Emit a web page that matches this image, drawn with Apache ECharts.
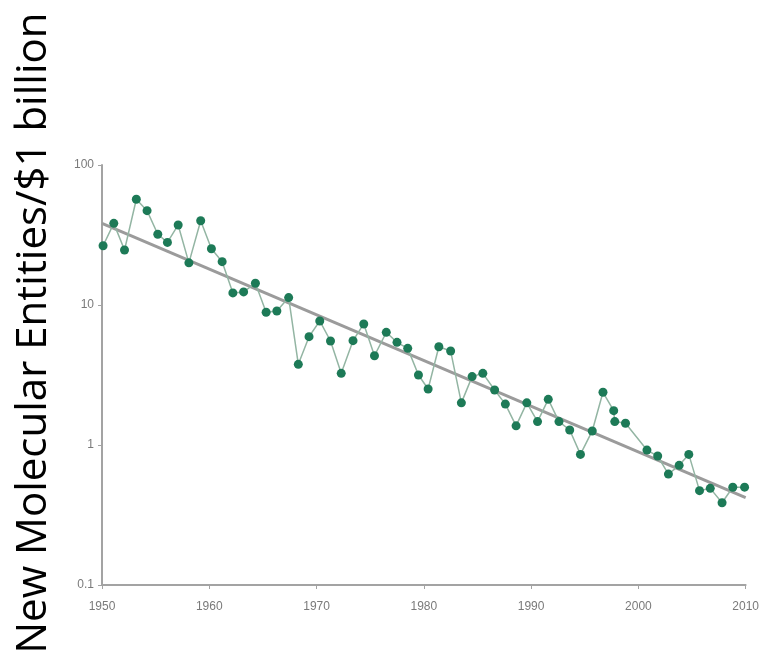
<!DOCTYPE html>
<html>
<head>
<meta charset="utf-8">
<style>html,body{margin:0;padding:0;background:#fff;}#chart{width:762px;height:656px;}</style>
<script src="https://cdn.jsdelivr.net/npm/echarts@6/dist/echarts.min.js"></script>
</head>
<body>
<div id="chart"></div>
<script>
// Year positions (as placed in the picture) and NMEs per $1 billion
const years = [1950.1,1951.1,1952.1,1953.2,1954.2,1955.2,1956.1,1957.1,1958.1,1959.2,
  1960.2,1961.2,1962.2,1963.2,1964.3,1965.3,1966.3,1967.4,1968.3,1969.3,
  1970.3,1971.3,1972.3,1973.4,1974.4,1975.4,1976.5,1977.5,1978.5,1979.5,
  1980.4,1981.4,1982.5,1983.5,1984.5,1985.5,1986.6,1987.6,1988.6,1989.6,
  1990.6,1991.6,1992.6,1993.6,1994.6,1995.7,1996.7,1997.7,1997.8,1998.8,
  2000.8,2001.8,2002.8,2003.8,2004.7,2005.7,2006.7,2007.8,2008.8,2009.9];
const nmePerBillion = [26.5,38.3,24.7,56.9,47.2,32,28,37.3,20,40,
  25.2,20.4,12.2,12.4,14.3,8.87,9.06,11.3,3.77,5.94,
  7.69,5.53,3.25,5.56,7.32,4.34,6.38,5.41,4.9,3.16,
  2.51,5.03,4.69,2.0,3.08,3.25,2.47,1.96,1.37,2.0,
  1.47,2.12,1.47,1.28,0.857,1.26,2.38,1.76,1.47,1.43,
  0.92,0.834,0.62,0.716,0.857,0.472,0.49,0.387,0.499,0.50];
const trendYears = [1950, 2010];
const trendValues = [38.3, 0.42];
const xTicks = [1950,1960,1970,1980,1990,2000,2010];
const yTicks = [0.1, 1, 10, 100];
const yTitle = 'New Molecular Entities/$1 billion';

const chart = echarts.init(document.getElementById('chart'));
const labelFont = "'Liberation Sans Narrow','Arial Narrow','Liberation Sans',sans-serif";
chart.setOption({
  animation: false,
  backgroundColor: '#fff',
  grid: {left: 102, right: 16, top: 165, bottom: 71},
  xAxis: {
    type: 'value', min: xTicks[0], max: xTicks[xTicks.length-1], interval: 10,
    axisLine: {lineStyle: {color: '#a3a3a3', width: 2}},
    axisTick: {length: 4, lineStyle: {color: '#a3a3a3', width: 1}},
    splitLine: {show: false},
    axisLabel: {color: '#7a7a7a', fontSize: 12, fontFamily: labelFont, margin: 16,
      formatter: v => String(v)}
  },
  yAxis: {
    type: 'log', logBase: 10, min: yTicks[0], max: yTicks[yTicks.length-1],
    axisLine: {show: true, lineStyle: {color: '#a3a3a3', width: 2}},
    axisTick: {show: true, length: 4, lineStyle: {color: '#a3a3a3', width: 1}},
    splitLine: {show: false},
    minorTick: {show: false},
    axisLabel: {color: '#7a7a7a', fontSize: 12, fontFamily: labelFont, margin: 8,
      formatter: v => String(Math.round(v*10)/10)}
  },
  graphic: [{
    type: 'text', x: 34, y: 333, rotation: Math.PI/2,
    style: {text: yTitle, fill: '#000', fontSize: 42, fontFamily: "'Open Sans',sans-serif",
      align: 'center', verticalAlign: 'middle'}
  }],
  series: [
    {type: 'line', data: trendYears.map((y,i)=>[y, trendValues[i]]), symbol: 'none',
      lineStyle: {color: '#9b9b9b', width: 3}, z: 1},
    {type: 'line', data: years.map((y,i)=>[y, nmePerBillion[i]]), symbol: 'circle', symbolSize: 9,
      lineStyle: {color: '#93b5a3', width: 1.5}, itemStyle: {color: '#1d7a57'}, z: 2}
  ]
});
</script>
</body>
</html>
